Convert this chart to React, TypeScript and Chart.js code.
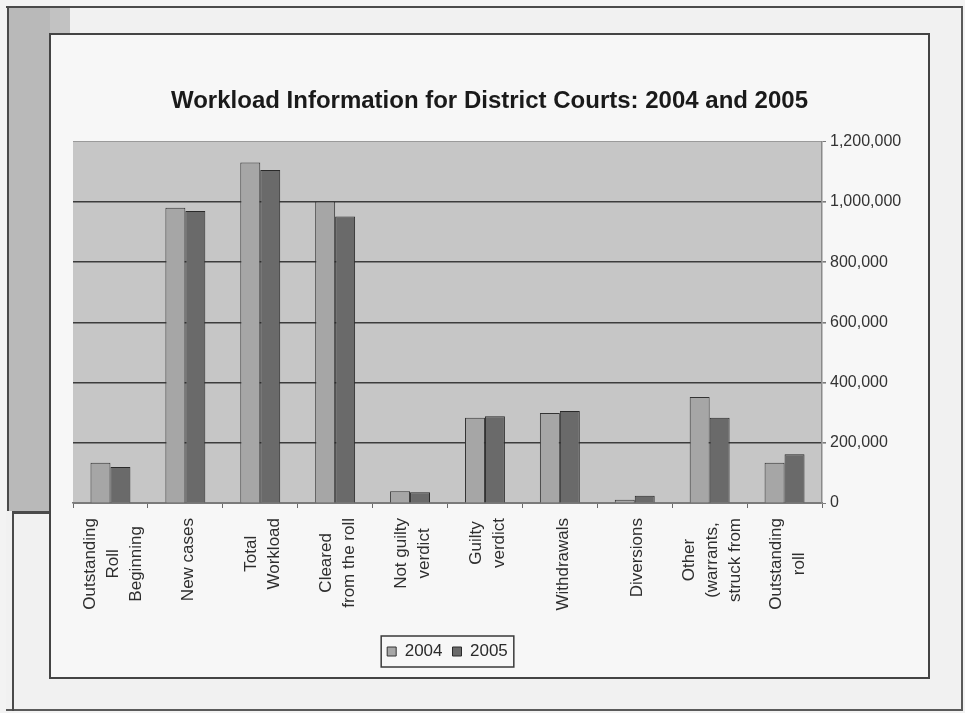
import React, { useEffect, useRef } from "react";
import { Chart, registerables } from "chart.js";
Chart.register(...registerables);

const FONT = "Arial, 'Liberation Sans', Helvetica, sans-serif";

const title = "Workload Information for District Courts: 2004 and 2005";
const categories: string[][] = [
  ["Outstanding", "Roll", "Beginning"],
  ["New cases"],
  ["Total", "Workload"],
  ["Cleared", "from the roll"],
  ["Not guilty", "verdict"],
  ["Guilty", "verdict"],
  ["Withdrawals"],
  ["Diversions"],
  ["Other", "(warrants,", "struck from"],
  ["Outstanding", "roll"],
];
const seriesNames = ["2004", "2005"];
const values2004 = [134000, 981000, 1131000, 1002000, 39000, 283000, 299000, 11000, 352000, 134000];
const values2005 = [120000, 970000, 1106000, 952000, 36000, 288000, 306000, 24000, 283000, 162000];
const yMin = 0;
const yMax = 1200000;
const yStep = 200000;

const plotBg = {
  id: "plotBg",
  beforeDraw(chart: any) {
    const { ctx, chartArea: a } = chart;
    ctx.save();
    ctx.fillStyle = "#c6c6c6";
    ctx.fillRect(a.left, a.top, a.right - a.left, a.bottom - a.top);
    ctx.restore();
  },
};

const xLabels = {
  id: "xLabels",
  afterDraw(chart: any) {
    const { ctx } = chart;
    const sx = chart.scales.x;
    const labels = chart.data.labels as string[][];
    ctx.save();
    ctx.font = `17px ${FONT}`;
    ctx.fillStyle = "#2e2e2e";
    ctx.textAlign = "center";
    ctx.textBaseline = "middle";
    const lh = 23;
    labels.forEach((lines, i) => {
      const x = sx.getPixelForTick(i);
      const maxW = Math.max(...lines.map((l) => ctx.measureText(l).width));
      const yc = sx.top + 15 + maxW / 2;
      ctx.save();
      ctx.translate(x + 3, yc);
      ctx.rotate(-Math.PI / 2);
      lines.forEach((l, j) => {
        ctx.fillText(l, 0, (j - (lines.length - 1) / 2) * lh);
      });
      ctx.restore();
    });
    ctx.restore();
  },
};

const legendBox = {
  id: "legendBox",
  afterDraw(chart: any) {
    const lg = chart.legend;
    if (!lg || !lg.legendHitBoxes || !lg.legendHitBoxes.length) return;
    const hb = lg.legendHitBoxes;
    const left = Math.min(...hb.map((h: any) => h.left)) - 6;
    const right = Math.max(...hb.map((h: any) => h.left + h.width)) + 6;
    const top = Math.min(...hb.map((h: any) => h.top)) - 7;
    const bottom = Math.max(...hb.map((h: any) => h.top + h.height)) + 7;
    const { ctx } = chart;
    ctx.save();
    ctx.strokeStyle = "#3a3a3a";
    ctx.lineWidth = 1.5;
    ctx.strokeRect(left, top, right - left, bottom - top);
    ctx.restore();
  },
};

export default function App() {
  const ref = useRef<HTMLCanvasElement>(null);
  useEffect(() => {
    if (!ref.current) return;
    const chart = new Chart(ref.current, {
      type: "bar",
      data: {
        labels: categories as any,
        datasets: [
          {
            label: seriesNames[0],
            data: values2004,
            backgroundColor: "#a6a6a6",
            borderColor: "#333333",
            borderWidth: 1,
          },
          {
            label: seriesNames[1],
            data: values2005,
            backgroundColor: "#6a6a6a",
            borderColor: "#2a2a2a",
            borderWidth: 1,
          },
        ],
      },
      plugins: [plotBg, xLabels, legendBox],
      options: {
        animation: false,
        responsive: false,
        maintainAspectRatio: false,
        layout: { padding: { left: 0, right: 0, top: 0, bottom: 8 } },
        datasets: { bar: { categoryPercentage: 0.533, barPercentage: 1 } },
        plugins: {
          title: {
            display: true,
            text: title,
            color: "#1a1a1a",
            font: { family: FONT, size: 24, weight: "bold", lineHeight: 1.2 },
            padding: { top: 53, bottom: 26 },
          },
          legend: {
            display: true,
            position: "bottom",
            fullSize: false,
            labels: {
              color: "#2a2a2a",
              font: { family: FONT, size: 17 },
              boxWidth: 9,
              boxHeight: 9,
              padding: 10,
            },
          },
          tooltip: { enabled: false },
        },
        scales: {
          x: {
            type: "category",
            offset: true,
            grid: {
              display: true,
              offset: true,
              drawOnChartArea: false,
              drawTicks: true,
              tickLength: 5,
              tickColor: "#6a6a6a",
            },
            border: { display: true, color: "#7a7a7a", width: 1.5 },
            ticks: { display: false },
            afterFit: (scale: any) => {
              scale.height = 130;
            },
          },
          y: {
            position: "right",
            min: yMin,
            max: yMax,
            grid: {
              color: (c: any) =>
                c.tick && c.tick.value === yMax ? "#9a9a9a" : c.tick && c.tick.value === yMin ? "#7a7a7a" : "#3c3c3c",
              lineWidth: (c: any) => (c.tick && (c.tick.value === yMax || c.tick.value === yMin) ? 1 : 1.6),
              tickLength: 4,
              tickColor: "#7a7a7a",
            },
            border: { display: true, color: "#8a8a8a", width: 1.5 },
            ticks: {
              stepSize: yStep,
              padding: 4,
              color: "#333333",
              font: { family: FONT, size: 16 },
              callback: (v: any) => Number(v).toLocaleString("en-US"),
            },
            afterFit: (scale: any) => {
              scale.width = 107;
            },
          },
          yLeftSpace: {
            type: "linear",
            position: "left",
            display: true,
            min: yMin,
            max: yMax,
            grid: { display: false, drawTicks: false },
            border: { display: false },
            ticks: { display: false },
            afterFit: (scale: any) => {
              scale.width = 23;
            },
          },
        },
      } as any,
    });
    return () => chart.destroy();
  }, []);

  return (
    <div
      style={{
        position: "fixed",
        left: 0,
        top: 0,
        width: 965,
        height: 713,
        background: "#f3f3f3",
        overflow: "hidden",
      }}
    >
      <div
        style={{
          position: "absolute",
          left: 6,
          top: 6,
          width: 957,
          height: 705,
          boxSizing: "border-box",
          borderTop: "2px solid #4a4a4a",
          borderRight: "2px solid #5a5a5a",
          borderBottom: "2px solid #5a5a5a",
          background: "#f1f1f1",
        }}
      />
      <div style={{ position: "absolute", left: 7, top: 8, width: 43, height: 503, background: "#b9b9b9", borderLeft: "2px solid #4a4a4a" }} />
      <div style={{ position: "absolute", left: 50, top: 8, width: 20, height: 26, background: "#c2c2c2" }} />
      <div style={{ position: "absolute", left: 12, top: 511, width: 41, height: 3, background: "#4a4a4a" }} />
      <div style={{ position: "absolute", left: 12, top: 511, width: 2, height: 200, background: "#4a4a4a" }} />
      <div
        style={{
          position: "absolute",
          left: 49,
          top: 33,
          width: 881,
          height: 646,
          boxSizing: "border-box",
          border: "2px solid #444",
          background: "#f7f7f7",
        }}
      />
      <canvas
        ref={ref}
        width={879}
        height={644}
        style={{ position: "absolute", left: 50, top: 34, width: 879, height: 644 }}
      />
    </div>
  );
}
